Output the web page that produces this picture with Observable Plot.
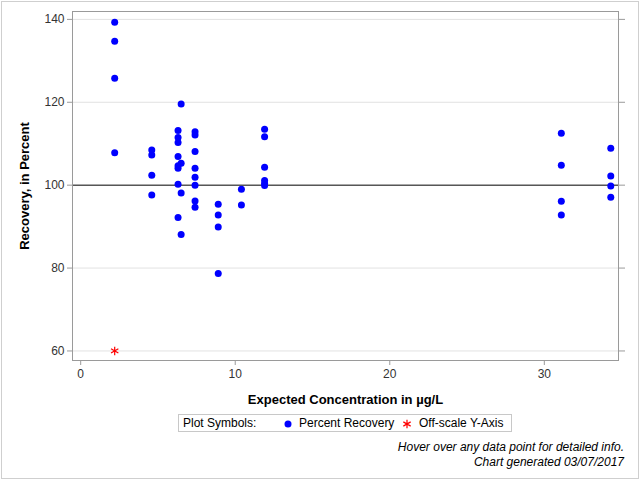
<!DOCTYPE html>
<html>
<head>
<meta charset="utf-8">
<script src="https://cdn.jsdelivr.net/npm/d3@7"></script>
<script src="https://cdn.jsdelivr.net/npm/@observablehq/plot@0.6"></script>
<style>
  body { margin: 0; background: #fff; font-family: "Liberation Sans", Arial, sans-serif; }
  #page { position: relative; width: 640px; height: 480px; overflow: hidden; background: #fff; }
  #border { position: absolute; left: 1px; top: 1px; width: 636px; height: 476px; border: 1px solid #cfcfcf; }
  #chart { position: absolute; left: 0; top: 0; }
  #legend { position: absolute; left: 178px; top: 414px; width: 332px; height: 16px; border: 1px solid #c8c8c8; font-size: 12px; color: #000; }
  #legend span, #legend svg { position: absolute; }
  .foot { position: absolute; right: 16px; font-size: 12px; font-style: italic; color: #000; line-height: 14px; white-space: nowrap; }
</style>
</head>
<body>
<div id="page">
  <div id="border"></div>
  <div id="chart"></div>
  <div id="legend"></div>
  <div class="foot" id="foot1" style="top:440px"></div>
  <div class="foot" id="foot2" style="top:455px"></div>
</div>
<script>
// ---- data ----
const concentrations = [2.2, 4.6, 6.3, 6.5, 7.4, 8.9, 10.4, 11.9, 31.1, 34.3];
const recoveryByConcentration = [
  [139.3, 134.7, 125.8, 107.8],
  [108.5, 107.3, 102.4, 97.6],
  [113.2, 111.5, 110.3, 106.9, 104.7, 104.1, 100.2, 92.2],
  [119.6, 105.3, 98.1, 88.1],
  [112.9, 112.1, 108.1, 104.1, 101.9, 100.0, 96.2, 94.7],
  [95.4, 92.8, 89.9, 78.7],
  [99.0, 95.2],
  [113.5, 111.7, 104.3, 101.1, 100.4, 99.9],
  [112.5, 104.8, 96.1, 92.8],
  [108.9, 102.2, 99.8, 97.1]
];
const offscaleConcentrations = [2.2];
const offscaleRecoveries = [60];
const xTicks = [0, 10, 20, 30];
const yTicks = [60, 80, 100, 120, 140];
const referenceLine = [100];
const xLabel = "Expected Concentration in µg/L";
const yLabel = "Recovery, in Percent";
const legendTitle = "Plot Symbols:";
const legendItems = ["Percent Recovery", "Off-scale Y-Axis"];
const footnotes = ["Hover over any data point for detailed info.", "Chart generated 03/07/2017"];

const points = concentrations.flatMap((c, i) => recoveryByConcentration[i].map(r => ({conc: c, rec: r})));
const offscale = offscaleConcentrations.map((c, i) => ({conc: c, rec: offscaleRecoveries[i]}));

const chart = Plot.plot({
  width: 640,
  height: 410,
  marginLeft: 72,
  marginRight: 22,
  marginTop: 11,
  marginBottom: 50,
  style: { fontFamily: "Liberation Sans, Arial, sans-serif", fontSize: "12px", background: "transparent", overflow: "visible" },
  x: { domain: [-0.53, 34.8] },
  y: { domain: [57.7, 141.9] },
  marks: [
    Plot.gridY(yTicks.filter(t => !referenceLine.includes(t)), { stroke: "#e2e2e2", strokeOpacity: 1 }),
    Plot.ruleY(referenceLine, { stroke: "#000", strokeWidth: 1 }),
    Plot.frame({ stroke: "#9a9a9a" }),
    Plot.axisX({ ticks: xTicks, tickSize: 5, tickPadding: 4, stroke: "#9a9a9a", fill: "#333", label: null }),
    Plot.axisY({ ticks: yTicks, tickSize: 5, tickPadding: 3, stroke: "#9a9a9a", fill: "#333", label: null }),
    Plot.axisY({ ticks: yTicks, anchor: "right", tickSize: 6, tickFormat: () => "", stroke: "#9a9a9a", label: null }),
    Plot.dot(points, { x: "conc", y: "rec", r: 3.5, fill: "#0000ff" }),
    Plot.dot(offscale, { x: "conc", y: "rec", r: 4, symbol: "asterisk", stroke: "#ff0000", strokeWidth: 1.2 }),
    Plot.text([xLabel], { text: d => d, frameAnchor: "bottom", lineAnchor: "middle", textAnchor: "middle", dy: 39, fontWeight: "bold", fontSize: 13, fill: "#000" }),
    Plot.text([yLabel], { text: d => d, frameAnchor: "left", lineAnchor: "middle", textAnchor: "middle", dx: -48, rotate: -90, fontWeight: "bold", fontSize: 13, fill: "#000" })
  ]
});
document.getElementById("chart").appendChild(chart);

// legend
const legend = d3.select("#legend");
legend.append("span").style("left", "4px").style("top", "1px").text(legendTitle);
const s1 = legend.append("svg").attr("width", 10).attr("height", 10).style("left", "104px").style("top", "4px");
s1.append("circle").attr("cx", 5).attr("cy", 5).attr("r", 3.5).attr("fill", "#0000ff");
legend.append("span").style("left", "120px").style("top", "1px").text(legendItems[0]);
const s2 = legend.append("svg").attr("width", 12).attr("height", 12).style("left", "222px").style("top", "3px");
s2.append("path").attr("transform", "translate(6,6)")
  .attr("d", d3.symbol(d3.symbolAsterisk, 4 * 4 * Math.PI)())
  .attr("fill", "none").attr("stroke", "#ff0000").attr("stroke-width", 1.2);
legend.append("span").style("left", "240px").style("top", "1px").text(legendItems[1]);

document.getElementById("foot1").textContent = footnotes[0];
document.getElementById("foot2").textContent = footnotes[1];
</script>
</body>
</html>
